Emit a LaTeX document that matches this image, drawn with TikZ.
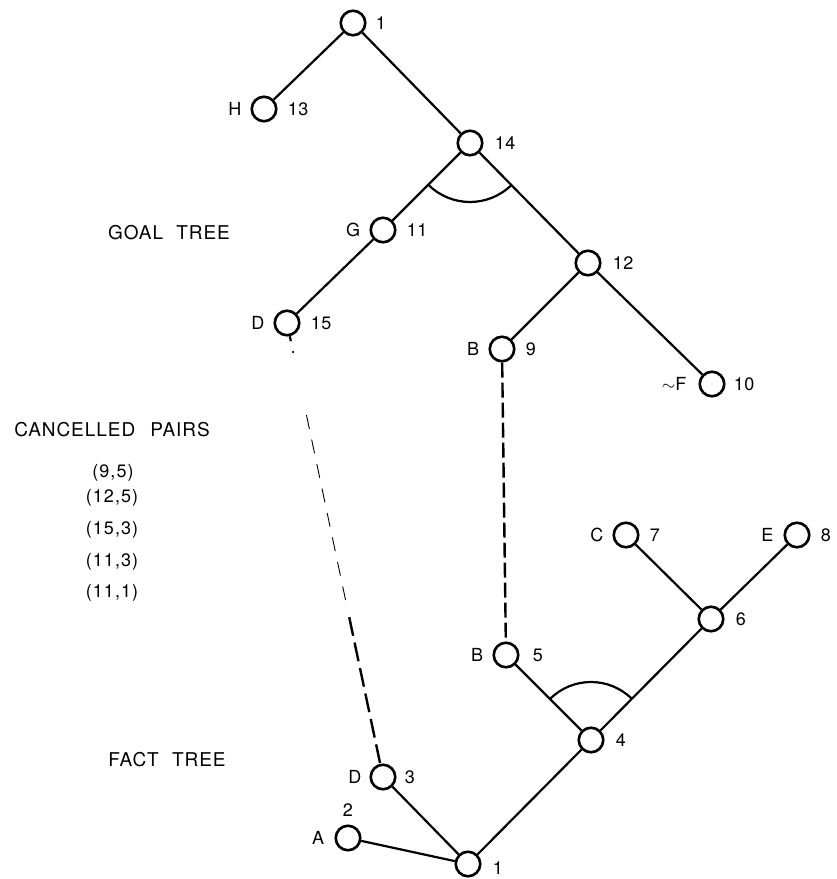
\documentclass[tikz,border=0pt]{standalone}
\usepackage{fontspec}
\setmainfont{TeX Gyre Heros}
\usetikzlibrary{calc}
\tikzset{
  vertex/.style={circle, draw, line width=2.6pt, minimum size=24.5pt, inner sep=0pt},
  edge/.style={line width=2.2pt},
  match/.style={line width=2.4pt, dash pattern=on 15pt off 5pt},
  faint/.style={line width=0.9pt, dash pattern=on 14pt off 11pt},
  andarc/.style={line width=2.2pt},
  title/.style={font=\fontsize{19}{22}\selectfont\addfontfeature{LetterSpace=5}},
  pair/.style={font=\fontsize{18}{21}\selectfont\addfontfeature{LetterSpace=6}},
  every label/.style={font=\fontsize{18}{21}\selectfont\addfontfeature{LetterSpace=3}, inner sep=0pt},
}

\begin{document}
\begin{tikzpicture}[x=1pt,y=1pt]
\useasboundingbox (0,0) rectangle (837,879);
% Goal tree
\node[vertex, label={[label distance=9pt]right:1}] (g1) at (353,856) {};
\node[vertex, label={[label distance=9pt]left:H}, label={[label distance=10pt]right:13}] (g13) at (264,770) {};
\node[vertex, label={[label distance=11pt]right:14}] (g14) at (470,736) {};
\node[vertex, label={[label distance=9pt]left:G}, label={[label distance=10pt]right:11}] (g11) at (383,649) {};
\node[vertex, label={[label distance=9pt]left:D}, label={[label distance=10pt]right:15}] (g15) at (287,556) {};
\node[vertex, label={[label distance=11pt]right:12}] (g12) at (588,616) {};
\node[vertex, label={[label distance=9pt]left:B}, label={[label distance=10pt]right:9}] (g9) at (502,530) {};
\node[vertex, label={[label distance=12pt]left:$\sim$F}, label={[label distance=8pt]right:10}] (g10) at (712,495) {};
\draw[edge] (g1) -- (g13);
\draw[edge] (g1) -- (g14);
\draw[edge] (g14) -- (g11);
\draw[edge] (g14) -- (g12);
\draw[edge] (g11) -- (g15);
\draw[edge] (g12) -- (g9);
\draw[edge] (g12) -- (g10);
% AND arc at 14
\draw[andarc] ([shift={(225:59pt)}]g14.center) arc[start angle=225, end angle=314.5, radius=59pt];

% Fact tree
\node[vertex, label={[label distance=9pt]left:C}, label={[label distance=10pt]right:7}] (f7) at (626,344) {};
\node[vertex, label={[label distance=10pt]left:E}, label={[label distance=10pt]right:8}] (f8) at (797,344) {};
\node[vertex, label={[label distance=11pt]right:6}] (f6) at (711,260) {};
\node[vertex, label={[label distance=9pt]left:B}, label={[label distance=13pt]right:5}] (f5) at (506,224) {};
\node[vertex, label={[label distance=11pt]right:4}] (f4) at (591,139) {};
\node[vertex, label={[label distance=8pt]left:D}, label={[label distance=8pt]right:3}] (f3) at (383,102) {};
\node[vertex, label={[label distance=10pt]left:A}, label={[label distance=8pt]above:2}] (f2) at (348,41) {};
\node[vertex, label={[label distance=11pt, yshift=-4pt]right:1}] (f1) at (468,15) {};
\draw[edge] (f6) -- (f7);
\draw[edge] (f6) -- (f8);
\draw[edge] (f4) -- (f6);
\draw[edge] (f4) -- (f5);
\draw[edge] (f1) -- (f4);
\draw[edge] (f1) -- (f3);
\draw[edge] (f1) -- (f2);
% AND arc at 4
\draw[andarc] ([shift={(45.2:58pt)}]f4.center) arc[start angle=45.2, end angle=135, radius=58pt];

% Cancelled links
\draw[match] (g9) -- (f5);
\draw[edge] (g15) -- ($(g15)!0.04!(f3)$);
\fill ($(g15)!0.064!(f3)$) circle (1.3pt);
\draw[faint] ($(g15)!0.203!(f3)$) -- ($(g15)!0.626!(f3)$);
\draw[match, dash pattern=on 19pt off 7pt] ($(g15)!0.648!(f3)$) -- (f3);

% Titles and pairs
\node[title] (goal) at (169,646) {GOAL\hspace{0.7em}TREE};
\node[title] (fact) at (167,119) {FACT\hspace{0.7em}TREE};
\node[title] (cancel) at (112,449) {CANCELLED\hspace{0.8em}PAIRS};
\node[pair] (p1) at (113,406) {(9,5)};
\node[pair] (p2) at (112,381) {(12,5)};
\node[pair] (p3) at (112,349) {(15,3)};
\node[pair] (p4) at (112,317) {(11,3)};
\node[pair] (p5) at (112,286) {(11,1)};
\end{tikzpicture}
\end{document}
